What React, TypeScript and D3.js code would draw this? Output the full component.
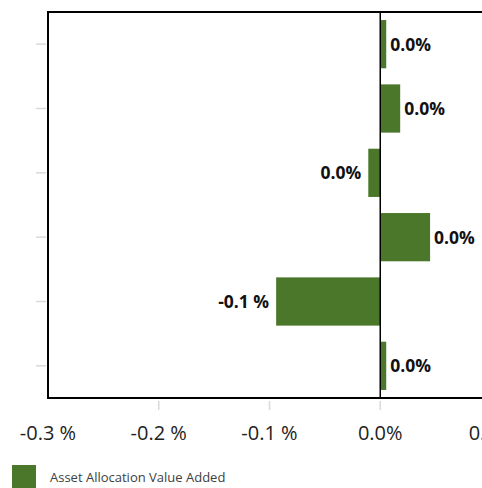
import React from 'react';
import * as d3 from 'd3';

// ─── 数据 ───
const categories = ['Cash', 'Fixed Income', 'Real Estate', 'US Equity', 'Intl Equity', 'Alternatives'];
const values = [0.0054, 0.018, -0.0108, 0.045, -0.094, 0.0054]; // %
const xTicks = [-0.3, -0.2, -0.1, 0.0, 0.1];
const seriesName = 'Asset Allocation Value Added';

const W = 482;
const H = 488;
const BAR = '#4b772b';
const FONT = '"Open Sans", "Liberation Sans", sans-serif';

const margin = { top: 12, left: 48, bottom: 398, right: 491 };

const fmtAxis = (v: number) => {
  const s = Math.abs(v) < 1e-9 ? '0.0' : v.toFixed(1);
  return v < -1e-9 ? `${s} %` : `${s}%`;
};
const fmtLabel = (v: number) => {
  const r = Math.round(v * 10) / 10;
  return r < 0 ? `${r.toFixed(1)} %` : `${Math.abs(r).toFixed(1)}%`;
};

export default function App() {
  const x = d3.scaleLinear().domain([-0.3, 0.1]).range([margin.left, margin.right]);
  const y = d3.scaleBand<string>()
    .domain(categories)
    .range([margin.top, margin.bottom])
    .paddingInner(0.25)
    .paddingOuter(0.125);
  const x0 = x(0);

  return (
    <div style={{ position: 'absolute', left: 0, top: 0, width: W, height: H, overflow: 'hidden', background: '#fff' }}>
      <svg width={W} height={H} style={{ display: 'block', fontFamily: FONT }}>
        {/* y 刻度 */}
        {categories.map(c => {
          const cy = (y(c) ?? 0) + y.bandwidth() / 2;
          return <line key={c} x1={36} x2={46} y1={cy} y2={cy} stroke="#d9d9d9" strokeWidth={1.5} />;
        })}
        {/* x 刻度 */}
        {xTicks.map((t, i) => (
          <g key={t}>
            {i > 0 && <line x1={x(t)} x2={x(t)} y1={401} y2={410} stroke="#d9d9d9" strokeWidth={1.5} />}
            <text x={x(t)} y={440} textAnchor="middle" fontSize={20} fill="#222">{fmtAxis(t)}</text>
          </g>
        ))}
        {/* 柱 */}
        {categories.map((c, i) => {
          const v = values[i];
          const by = y(c) ?? 0;
          const xa = x(Math.min(0, v));
          const xb = x(Math.max(0, v));
          const cy = by + y.bandwidth() / 2;
          return (
            <g key={c}>
              <rect x={xa} y={by} width={xb - xa} height={y.bandwidth()} fill={BAR} />
              <text
                x={v < 0 ? xa - 7 : xb + 4}
                y={cy + 6.5}
                textAnchor={v < 0 ? 'end' : 'start'}
                fontSize={17.5}
                fontWeight="bold"
                fill="#111"
              >{fmtLabel(v)}</text>
            </g>
          );
        })}
        {/* 零线 */}
        <line x1={x0} x2={x0} y1={margin.top} y2={margin.bottom} stroke="#000" strokeWidth={1.5} />
        {/* 边框 */}
        <rect x={margin.left} y={margin.top} width={margin.right - margin.left} height={margin.bottom - margin.top}
          fill="none" stroke="#000" strokeWidth={2} />
        {/* 图例 */}
        <rect x={12} y={465} width={24} height={24} fill={BAR} />
        <text x={50} y={482} fontSize={13} fill="#404040">{seriesName}</text>
      </svg>
    </div>
  );
}
